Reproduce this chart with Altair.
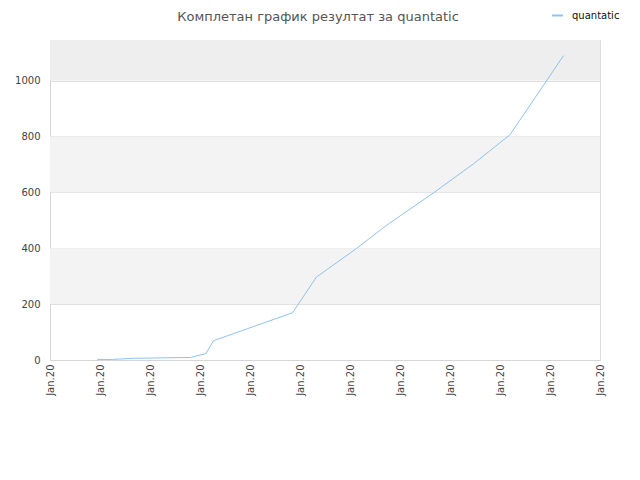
import altair as alt
import pandas as pd

# data
x_pos = [0.946, 1.246, 1.646, 2.40, 2.81, 3.12, 3.27, 4.85, 5.33, 6.13, 6.73, 7.67, 8.47, 9.20, 10.27]
values = [2, 2, 6, 8, 9, 23, 69, 169, 297, 399, 482, 598, 702, 806, 1089]
series_name = "quantatic"
tick_label = "Jan.20"
x_ticks = list(range(0, 12))
y_ticks = [0, 200, 400, 600, 800, 1000]
y_max = 1145
band_lo = [200, 600, 1000]
band_hi = [400, 800, 1145]
band_fill = ["#f3f3f3", "#f3f3f3", "#eeeeee"]

df = pd.DataFrame({"x": x_pos, "y": values, "s": [series_name] * len(values)})
bands = pd.DataFrame({"lo": band_lo, "hi": band_hi, "c": band_fill})

xscale = alt.Scale(domain=[0, 11], nice=False, zero=False)
yscale = alt.Scale(domain=[0, y_max], nice=False)

y_axis = alt.Axis(
    values=y_ticks,
    format="d",
    title=None,
    grid=True,
    gridColor="#e0e0e0",
    ticks=False,
    domainColor="#d6d6d6",
    labelColor="#444444",
    labelFontSize=10,
    labelFont="DejaVu Sans",
    labelPadding=10,
)

band_layer = alt.Chart(bands).mark_rect().encode(
    x=alt.value(0),
    x2=alt.value(550),
    y=alt.Y("lo:Q", scale=yscale, axis=y_axis),
    y2="hi:Q",
    fill=alt.Fill("c:N", scale=None, legend=None),
)

line = alt.Chart(df).mark_line(strokeWidth=1).encode(
    x=alt.X(
        "x:Q",
        scale=xscale,
        axis=alt.Axis(
            values=x_ticks,
            labelExpr=f"'{tick_label}'",
            labelAngle=270,
            title=None,
            grid=False,
            ticks=False,
            domainColor="#d6d6d6",
            labelColor="#444444",
            labelFontSize=10,
            labelFont="DejaVu Sans",
            labelPadding=4,
            labelOverlap=False,
        ),
    ),
    y=alt.Y("y:Q", scale=yscale, axis=y_axis),
    color=alt.Color(
        "s:N",
        scale=alt.Scale(domain=[series_name], range=["#8ec2f4"]),
        legend=alt.Legend(
            title=None,
            orient="none",
            legendX=501,
            legendY=-31,
            symbolType="stroke",
            symbolSize=121,
            symbolStrokeWidth=2,
            labelFontSize=10,
            labelFont="DejaVu Sans",
            labelColor="#111111",
            labelOffset=8,
        ),
    ),
)

chart = (
    alt.layer(band_layer, line)
    .properties(
        width=550,
        height=320,
        autosize=alt.AutoSizeParams(type="none"),
        padding={"left": 42, "top": 32, "right": 32, "bottom": 112},
        title=alt.TitleParams(
            "Комплетан график резултат за quantatic",
            font="DejaVu Sans",
            fontSize=13,
            fontWeight="normal",
            color="#555555",
            anchor="middle",
            frame="group",
            dx=-7,
            dy=37,
            offset=22,
        ),
    )
    .configure_view(stroke="#dddddd")
)

chart.save("out.html", embed_options={"renderer": "svg", "actions": False})
